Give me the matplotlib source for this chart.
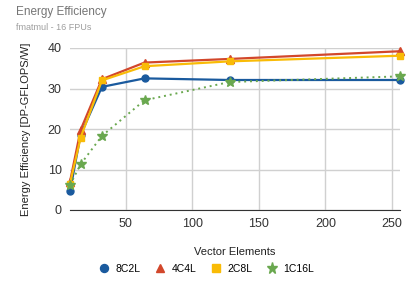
# efektywnosc energetyczna fmatmul - 16 FPU

import matplotlib.pyplot as plt

plt.rcParams['font.family'] = ['Liberation Sans', 'DejaVu Sans']

vector_elements = [8, 16, 32, 64, 128, 256]
eff_8c2l = [4.6, 18.6, 30.4, 32.5, 32.1, 32.1]
eff_4c4l = [7.0, 19.8, 32.3, 36.4, 37.3, 39.2]
eff_2c8l = [6.5, 17.9, 32.0, 35.5, 36.7, 38.1]
eff_1c16l = [6.2, 11.3, 18.3, 27.1, 31.6, 33.0]

fig = plt.figure(figsize=(4.07, 2.82), dpi=100)
ax = fig.add_axes([70 / 407, 1 - 210 / 282, 330 / 407, 162 / 282])

ax.plot(vector_elements, eff_8c2l, color='#1a5a9e', marker='o', markersize=5, lw=1.6, label='8C2L', clip_on=False, zorder=3)
ax.plot(vector_elements, eff_4c4l, color='#d2472b', marker='^', markersize=5.5, lw=1.6, label='4C4L', clip_on=False, zorder=3)
ax.plot(vector_elements, eff_2c8l, color='#f9bb06', marker='s', markersize=5, lw=1.6, label='2C8L', clip_on=False, zorder=3)
ax.plot(vector_elements, eff_1c16l, color='#6aa84f', marker='*', markersize=7, lw=1.4, ls=(0, (1, 2)), label='1C16L', clip_on=False, zorder=3)

ax.set_xlim(8, 256)
ax.set_ylim(0, 40)
ax.set_xticks([50, 100, 150, 200, 250])
ax.set_yticks([0, 10, 20, 30, 40])
ax.grid(True, color='#d0d0d0', lw=1)
ax.set_axisbelow(True)
for s in ['top', 'right', 'left']:
    ax.spines[s].set_visible(False)
ax.spines['bottom'].set_color('#333333')
ax.tick_params(length=0, labelsize=9, colors='#333333', pad=6)

ax.set_xlabel('Vector Elements', fontsize=8, color='#222222', labelpad=12)
ax.set_ylabel('Energy Efficiency [DP-GFLOPS/W]', fontsize=8, color='#222222', labelpad=12)

fig.text(16 / 407, 1 - 12 / 282, 'Energy Efficiency', fontsize=8.5, color='#757575', va='center')
fig.text(16 / 407, 1 - 27 / 282, 'fmatmul - 16 FPUs', fontsize=6.5, color='#9e9e9e', va='center')

fig.legend(loc='center', bbox_to_anchor=(207 / 407, 1 - 269 / 282), ncol=4, frameon=False,
           fontsize=7.5, handlelength=0.8, handletextpad=0.7, columnspacing=1.5, markerscale=1.15)
leg = fig.legends[0]
for h in leg.legend_handles:
    h.set_linestyle('none')

fig.savefig('out.png', dpi=100)
